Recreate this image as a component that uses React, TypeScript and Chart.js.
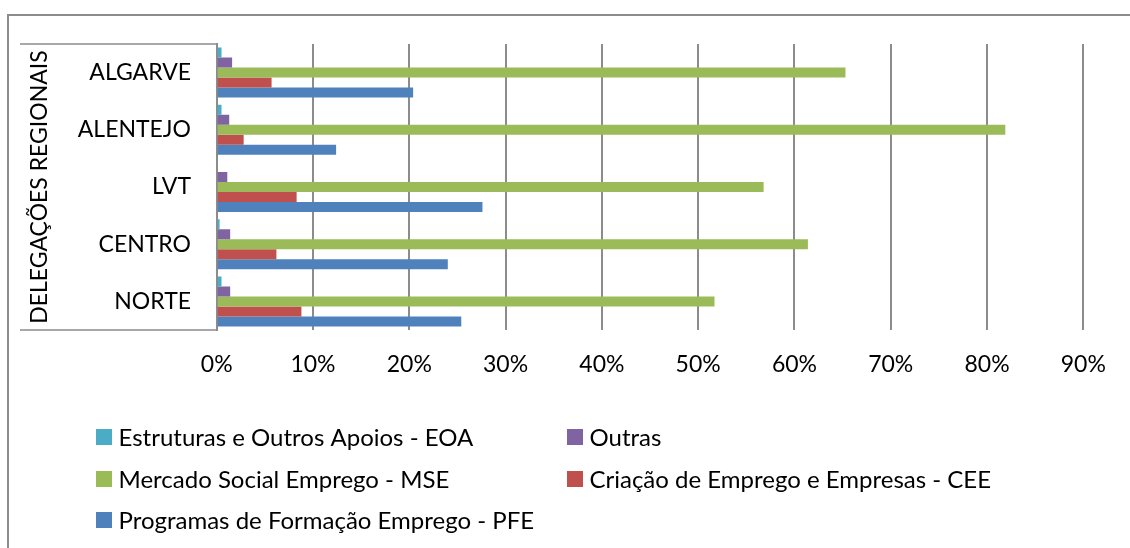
import React, { useEffect, useRef } from "react";
import { Chart, registerables } from "chart.js";

Chart.register(...registerables);

const categories = ["ALGARVE", "ALENTEJO", "LVT", "CENTRO", "NORTE"];
const axisTitle = "DELEGAÇÕES REGIONAIS";

const seriesNames = [
  "Estruturas e Outros Apoios - EOA",
  "Outras",
  "Mercado Social Emprego - MSE",
  "Criação de Emprego e Empresas - CEE",
  "Programas de Formação Emprego - PFE",
];
const seriesColors = ["#4BACC6", "#8064A2", "#9BBB59", "#C0504D", "#4F81BD"];

const eoaValues = [0.5, 0.5, 0, 0.3, 0.5];
const outrasValues = [1.6, 1.3, 1.1, 1.4, 1.4];
const mseValues = [65.3, 81.9, 56.8, 61.4, 51.7];
const ceeValues = [5.7, 2.8, 8.3, 6.2, 8.8];
const pfeValues = [20.4, 12.4, 27.6, 24.0, 25.4];

const xTickMin = 0;
const xTickMax = 90;
const xTickStep = 10;

const FONT = "Lato, 'Open Sans', sans-serif";
const GRID = "#8c8c8c";

const framePlugin = {
  id: "framePlugin",
  afterDraw(chart: any) {
    const ctx = chart.ctx;
    const area = chart.chartArea;
    ctx.save();
    // outer frame (top + left)
    ctx.strokeStyle = GRID;
    ctx.lineWidth = 2;
    ctx.beginPath();
    ctx.moveTo(8, chart.height);
    ctx.lineTo(8, 15);
    ctx.lineTo(chart.width, 15);
    ctx.stroke();
    // category axis box lines
    ctx.lineWidth = 1.5;
    ctx.beginPath();
    ctx.moveTo(20, area.top);
    ctx.lineTo(area.left, area.top);
    ctx.moveTo(20, area.bottom);
    ctx.lineTo(area.left, area.bottom);
    ctx.stroke();

    // legend (2 columns)
    const colX = [96, 567];
    const rowY = [437, 479, 520];
    ctx.font = `24px ${FONT}`;
    ctx.textBaseline = "middle";
    ctx.textAlign = "left";
    chart.data.datasets.forEach((ds: any, i: number) => {
      const x = colX[i % 2];
      const y = rowY[Math.floor(i / 2)];
      ctx.fillStyle = ds.backgroundColor;
      ctx.fillRect(x, y - 8, 16, 16);
      ctx.fillStyle = "#000";
      ctx.fillText(ds.label, x + 22.5, y + 1);
    });
    ctx.restore();
  },
};

export default function App() {
  const ref = useRef<HTMLCanvasElement | null>(null);
  useEffect(() => {
    if (!ref.current) return;
    const values = [eoaValues, outrasValues, mseValues, ceeValues, pfeValues];
    const chart = new Chart(ref.current, {
      type: "bar",
      data: {
        labels: categories,
        datasets: seriesNames.map((name, i) => ({
          label: name,
          data: values[i],
          backgroundColor: seriesColors[i],
          borderWidth: 0,
          categoryPercentage: 0.874,
          barPercentage: 1.0,
        })),
      },
      options: {
        indexAxis: "y",
        responsive: false,
        animation: false,
        layout: { padding: { left: 0, top: 44, right: 46.7, bottom: 0 } },
        plugins: {
          legend: { display: false },
          tooltip: { enabled: false },
        },
        scales: {
          x: {
            min: xTickMin,
            max: xTickMax,
            ticks: {
              stepSize: xTickStep,
              callback: (v: any) => `${v}%`,
              color: "#000",
              font: { family: FONT, size: 23 },
              padding: 21,
              maxRotation: 0,
            },
            grid: { color: GRID, lineWidth: 2, drawTicks: false },
            border: { display: false },
            afterFit: (s: any) => {
              s.height = 218;
            },
          },
          y: {
            ticks: {
              color: "#000",
              font: { family: FONT, size: 23 },
              padding: 25.7,
            },
            grid: { display: false, drawTicks: false },
            border: { display: true, color: GRID, width: 2 },
            title: {
              display: true,
              text: axisTitle,
              color: "#000",
              font: { family: FONT, size: 23 },
              padding: { top: 26, bottom: 0 },
            },
            afterFit: (s: any) => {
              s.width = 216.7;
            },
          },
        },
      },
      plugins: [framePlugin],
    });
    return () => chart.destroy();
  }, []);
  return (
    <div style={{ position: "absolute", left: 0, top: 0, width: 1130, height: 548 }}>
      <canvas ref={ref} width={1130} height={548} style={{ display: "block" }} />
    </div>
  );
}
